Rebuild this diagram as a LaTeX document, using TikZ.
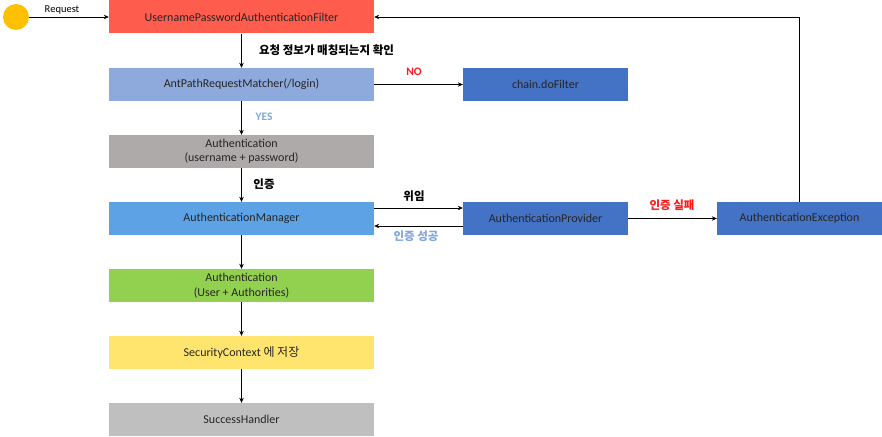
\documentclass[tikz,border=0pt]{standalone}
\usepackage{fontspec}
\setmainfont{Carlito}
\newfontfamily\kr{Noto Sans CJK KR}
\usetikzlibrary{arrows.meta}
\definecolor{startdot}{HTML}{FFC000}
\definecolor{filterred}{HTML}{FE5C4C}
\definecolor{matcherblue}{HTML}{8EA9DB}
\definecolor{darkblue}{HTML}{4472C4}
\definecolor{authgray}{HTML}{AEAAAA}
\definecolor{managerblue}{HTML}{5CA2E4}
\definecolor{authgreen}{HTML}{92D050}
\definecolor{ctxyellow}{HTML}{FFE56D}
\definecolor{lightgray}{HTML}{BFBFBF}
\definecolor{failred}{HTML}{FF1A1A}
\definecolor{okblue}{HTML}{7EA6E0}
\tikzset{
  box/.style={rectangle, minimum width=265pt, minimum height=33pt, inner sep=0pt, align=center,
    text=black!85, font=\fontsize{12}{14.5}\selectfont},
  sidebox/.style={box, minimum width=165pt},
  arr/.style={-{Stealth[length=5pt,width=4.5pt]}, line width=0.6pt},
  lbl/.style={inner sep=1pt, font=\kr\bfseries\fontsize{11.5}{13}\selectfont},
}

\begin{document}
\begin{tikzpicture}[x=1pt,y=-1pt]
		%%%%% START %%%%%
		\useasboundingbox (0,0) rectangle (882,436);
		
		\node[circle, fill=startdot, minimum size=26pt, inner sep=0pt] (start) at (16,17) {};
		
		\node[box, fill=filterred] (filter) at (241.5,17) {UsernamePasswordAuthenticationFilter};
		\node[box, fill=matcherblue] (matcher) at (241.5,84.5) {AntPathRequestMatcher(/login)};
		\node[sidebox, fill=darkblue] (dofilter) at (545.5,84.5) {chain.doFilter};
		\node[box, fill=authgray] (token) at (241.5,151.5) {Authentication\\(username + password)};
		\node[box, fill=managerblue] (manager) at (241.5,218.5) {AuthenticationManager};
		\node[sidebox, fill=darkblue] (provider) at (545.5,218.5) {AuthenticationProvider};
		\node[sidebox, fill=darkblue] (failure) at (799.5,218.5) {AuthenticationException};
		\node[box, fill=authgreen] (result) at (241.5,285.5) {Authentication\\(User + Authorities)};
		\node[box, fill=ctxyellow] (context) at (241.5,352.5) {SecurityContext {\kr 에 저장}};
		\node[box, fill=lightgray] (success) at (241.5,419.5) {SuccessHandler};
		
		% main flow
		\draw[arr] (start) -- (filter);
		\draw[arr] (filter) -- (matcher);
		\draw[arr] (matcher) -- (dofilter);
		\draw[arr] (matcher) -- (token);
		\draw[arr] (token) -- (manager);
		\draw[arr] ([yshift=10.5pt]manager.east) -- ([yshift=10.5pt]provider.west);
		\draw[arr] ([yshift=-7.5pt]provider.west) -- ([yshift=-7.5pt]manager.east);
		\draw[arr] (provider) -- (failure);
		\draw[arr] (failure.north) |- (filter.east);
		\draw[arr] (manager) -- (result);
		\draw[arr] (result) -- (context);
		\draw[arr] (context) -- (success);
		
		% labels
		\node[inner sep=1pt, font=\fontsize{10.5}{12}\selectfont] (reqlbl) at (62,10) {Request};
		\node[lbl] (checklbl) at (326.5,50) {요청 정보가 매칭되는지 확인};
		\node[lbl, text=failred, font=\bfseries\fontsize{11.5}{13}\selectfont] (nolbl) at (414,72) {NO};
		\node[lbl, text=okblue, font=\bfseries\fontsize{11.5}{13}\selectfont] (yeslbl) at (264,117) {YES};
		\node[lbl] (authlbl) at (264,184) {인증};
		\node[lbl] (delegatelbl) at (414,196) {위임};
		\node[lbl, text=okblue] (oklbl) at (416,236) {인증 성공};
		\node[lbl, text=failred] (faillbl) at (672,205) {인증 실패};
		
		%%%%% END %%%%%
	\end{tikzpicture}
\end{document}
